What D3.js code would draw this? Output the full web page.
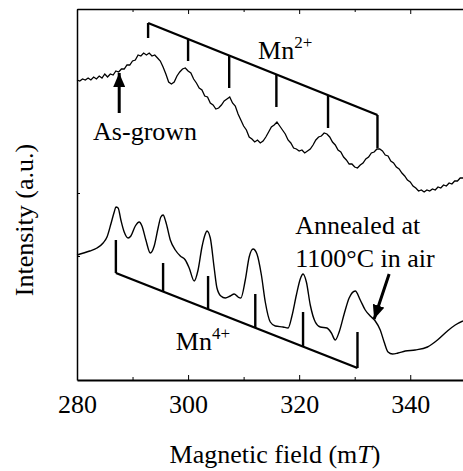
<!DOCTYPE html>
<html>
<head>
<meta charset="utf-8">
<script src="https://cdn.jsdelivr.net/npm/d3@7"></script>
<style>
  body { margin: 0; background: #fff; }
</style>
</head>
<body>
<svg id="chart" width="463" height="471" font-family="'Liberation Serif', 'DejaVu Serif', serif"></svg>
<script>
const FONT = "'Liberation Serif', 'DejaVu Serif', serif";

// field axis (mT)
const majorTicks = [280, 300, 320, 340];
const minorTicks = [290, 310, 330];
const yTicks = [124, 187];

// as-grown spectrum, one value every 0.5 mT from 280 to 349.5
const asGrownStart = 280;
const asGrownStep = 0.5;
const asGrown = [
  300,299,301,300,302,300,303,301,304,302,
  306,303,306,305,309,308,311,311,315,315,
  319,320,325,324,327,325,327,324,325,322,
  319,313,306,298,296,298,304,308,311,312,
  309,307,301,297,292,290,284,283,277,275,
  271,272,275,279,281,283,277,274,266,260,
  254,250,243,241,238,240,237,239,243,248,
  253,255,258,254,250,246,240,237,232,231,
  229,230,227,229,231,235,240,243,244,247,
  246,243,238,235,230,228,223,220,216,216,
  213,212,215,217,221,223,227,228,231,231,
  229,225,224,219,217,213,211,207,204,200,
  198,194,192,189,190,188,190,189,191,190,
  193,192,195,194,197,196,199,199,202,202
];

// annealed spectrum
const annealedField = [
  280.0,282.3,283.6,284.7,285.4,286.1,286.7,287.0,287.4,287.9,
  288.5,289.2,289.7,290.5,291.2,291.7,292.4,293.2,293.9,294.6,
  295.1,295.5,296.0,296.8,297.7,298.6,299.5,300.2,301.1,301.8,
  302.5,303.1,303.4,304.0,304.7,305.2,305.9,306.7,307.6,308.3,
  309.0,309.5,310.3,311.0,311.7,312.4,313.2,313.9,314.8,315.7,
  317.1,318.0,318.7,319.5,320.2,320.7,321.3,322.0,322.9,323.8,
  325.0,325.8,326.5,327.2,328.1,329.0,330.1,331.0,331.9,332.8,
  333.7,334.6,335.3,336.0,336.8,337.8,339.1,340.9,343.1,344.9,
  346.7,348.1,349.5
];
const annealed = [
  125,129,132,137,143,156,168,173,172,160,
  148,142,144,154,158,154,140,127,134,152,
  163,165,158,140,130,124,120,112,99,110,
  133,146,149,142,112,92,84,82,84,86,
  83,82,100,123,131,126,105,78,58,54,
  53,52,64,85,101,106,98,75,58,53,
  52,47,40,48,66,82,89,80,70,64,
  59,50,38,28,26,27,29,30,33,40,
  49,55,59
];

// hyperfine sextets
const mn2Field = [292.8, 300.0, 307.4, 315.9, 325.2, 334.1];
const mn2TickEnd = [342, 319, 292, 273, 252, 232];
const mn2Line = [357, 265];
const mn4Field = [287.0, 295.5, 303.6, 312.1, 320.7, 330.5];
const mn4TickEnd = [140, 117, 104, 86, 68, 48];
const mn4Line = [107, 12];

const svg = d3.select("#chart");
const x = d3.scaleLinear().domain([280, 349.5]).range([77, 463]);
const y = d3.scaleLinear().domain([0, 371]).range([380, 9]);

svg.append("defs").append("marker")
  .attr("id", "head")
  .attr("markerUnits", "userSpaceOnUse")
  .attr("viewBox", "0 0 14 12")
  .attr("refX", 14).attr("refY", 6)
  .attr("markerWidth", 14).attr("markerHeight", 12)
  .attr("orient", "auto")
  .append("path").attr("d", "M0,0 L14,6 L0,12 Z").attr("fill", "#000");

// bottom axis
const bottomAx = svg.append("g").attr("transform", "translate(0,380)")
  .call(d3.axisBottom(x).tickValues(majorTicks).tickSize(-5).tickSizeOuter(0).tickPadding(15).tickFormat(d3.format("d")));
bottomAx.attr("font-family", FONT).attr("font-size", 26);
bottomAx.selectAll("text").attr("font-family", FONT).attr("font-size", 26);
bottomAx.select(".domain").attr("stroke-width", 1.8);
svg.append("g").attr("transform", "translate(0,380)")
  .call(d3.axisBottom(x).tickValues(minorTicks).tickSize(-3).tickFormat(""))
  .select(".domain").remove();

// top frame
const topAx = svg.append("g").attr("transform", "translate(0,9)")
  .call(d3.axisTop(x).tickValues(majorTicks).tickSize(-5).tickSizeOuter(0).tickFormat(""));
topAx.select(".domain").attr("stroke-width", 1.5);
svg.append("g").attr("transform", "translate(0,9)")
  .call(d3.axisTop(x).tickValues(minorTicks).tickSize(-3).tickFormat(""))
  .select(".domain").remove();

// left frame
const leftAx = svg.append("g").attr("transform", "translate(77,0)")
  .call(d3.axisLeft(y).tickValues(yTicks).tickSize(-3).tickSizeOuter(0).tickFormat(""));
leftAx.select(".domain").attr("stroke-width", 1.5);

// spectra
const asGrownPts = asGrown.map((v, i) => [asGrownStart + i * asGrownStep, v]);
svg.append("path")
  .datum(asGrownPts)
  .attr("fill", "none").attr("stroke", "#000").attr("stroke-width", 1.3)
  .attr("d", d3.line().x(d => x(d[0])).y(d => y(d[1])));

const annealedPts = annealed.map((v, i) => [annealedField[i], v]);
svg.append("path")
  .datum(annealedPts)
  .attr("fill", "none").attr("stroke", "#000").attr("stroke-width", 1.4)
  .attr("d", d3.line().curve(d3.curveMonotoneX).x(d => x(d[0])).y(d => y(d[1])));

// sextet brackets
function bracket(fields, ends, line) {
  const f0 = fields[0], f1 = fields[fields.length - 1];
  const onLine = f => line[0] + (line[1] - line[0]) * (f - f0) / (f1 - f0);
  const g = svg.append("g").attr("stroke", "#000").attr("stroke-width", 2.4).attr("fill", "none");
  g.append("line")
    .attr("x1", x(f0)).attr("y1", y(line[0]))
    .attr("x2", x(f1)).attr("y2", y(line[1]));
  g.selectAll(".tk").data(fields).enter().append("line")
    .attr("class", "tk")
    .attr("x1", d => x(d)).attr("x2", d => x(d))
    .attr("y1", d => y(onLine(d)))
    .attr("y2", (d, i) => y(ends[i]));
}
bracket(mn2Field, mn2TickEnd, mn2Line);
bracket(mn4Field, mn4TickEnd, mn4Line);

// labels
function label(f, v) {
  return svg.append("text").attr("x", x(f)).attr("y", y(v))
    .attr("font-family", FONT).attr("font-size", 26);
}
function ion(f, v, sup) {
  const t = label(f, v);
  t.append("tspan").text("Mn");
  t.append("tspan").attr("font-size", 17).attr("dy", -11).text(sup);
}
ion(312.6, 321, "2+");
ion(297.8, 30, "4+");

label(282.9, 240).text("As-grown");
label(319.3, 146).text("Annealed at");
label(319.3, 113).text("1100\u00b0C in air");

// arrows
svg.append("line")
  .attr("x1", x(287.6)).attr("y1", y(267)).attr("x2", x(287.6)).attr("y2", y(307))
  .attr("stroke", "#000").attr("stroke-width", 3).attr("marker-end", "url(#head)");
svg.append("line")
  .attr("x1", x(336.2)).attr("y1", y(106)).attr("x2", x(333.5)).attr("y2", y(61))
  .attr("stroke", "#000").attr("stroke-width", 3).attr("marker-end", "url(#head)");

// axis titles
const xt = svg.append("text").attr("x", 275).attr("y", 463).attr("text-anchor", "middle")
  .attr("font-family", FONT).attr("font-size", 26);
xt.append("tspan").text("Magnetic field (m");
xt.append("tspan").attr("font-style", "italic").text("T");
xt.append("tspan").text(")");

svg.append("text")
  .attr("transform", "translate(33,220) rotate(-90)")
  .attr("text-anchor", "middle").attr("font-family", FONT).attr("font-size", 26)
  .text("Intensity (a.u.)");
</script>
</body>
</html>
